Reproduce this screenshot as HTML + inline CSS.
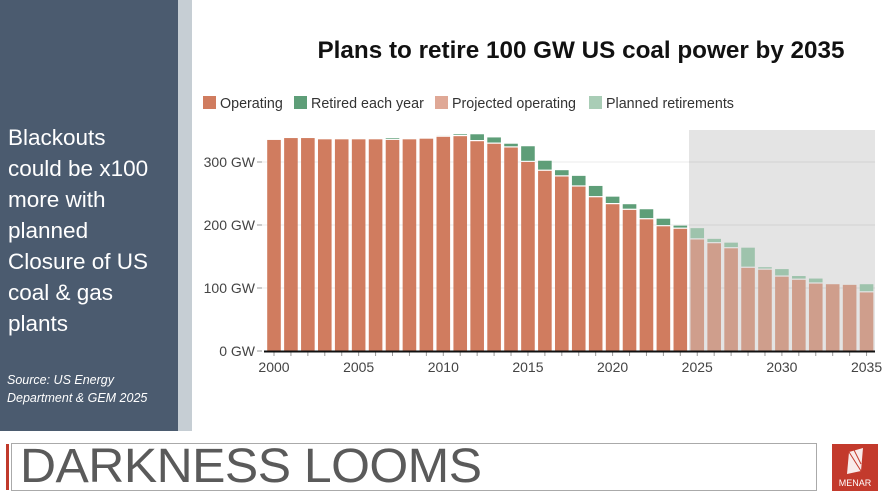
<!DOCTYPE html>
<html><head><meta charset="utf-8"><style>
body{margin:0;width:889px;height:500px;background:#fff;overflow:hidden;font-family:"Liberation Sans",sans-serif;position:relative}
.left{position:absolute;left:0;top:0;width:178px;height:431px;background:#4b5b6f}
.strip{position:absolute;left:178px;top:0;width:14px;height:431px;background:#c6ced4}
.big{position:absolute;left:8px;top:122px;color:#fff;font-size:22.5px;line-height:31px}
.src{position:absolute;left:7px;top:371px;color:#fff;font-size:12.5px;font-style:italic;line-height:18px}
.tbox{position:absolute;left:11px;top:443px;width:806px;height:48px;border:1px solid #aaa;box-sizing:border-box}
.red{position:absolute;left:6px;top:444px;width:3px;height:46px;background:#c0392b}
.tt{position:absolute;left:20px;top:439px;font-size:48px;color:#5a5a5a;letter-spacing:-0.5px;transform:scaleX(1.04);transform-origin:left;white-space:nowrap}
.logo{position:absolute;left:832px;top:444px;width:46px;height:47px;background:#c33a2c;color:#fff;font-size:9px;text-align:center}
</style></head><body>
<div class="left"></div><div class="strip"></div>
<div class="big">Blackouts<br>could be x100<br>more with<br>planned<br>Closure of US<br>coal &amp; gas<br>plants</div>
<div class="src">Source: US Energy<br>Department &amp; GEM 2025</div>
<div class="red"></div><div class="tbox"></div><div class="tt">DARKNESS LOOMS</div>
<div class="logo"><svg width="46" height="34"><polygon points="17,8 31,4 29,27 15,30" fill="#fff" opacity="0.9"/><line x1="17" y1="8" x2="29" y2="27" stroke="#c33a2c"/><line x1="22" y1="6" x2="29" y2="20" stroke="#c33a2c"/></svg><div style="margin-top:-2px">MENAR</div></div>
<svg id="c" style="position:absolute;left:0;top:0" width="889" height="440"></svg>
<script>
const op=[335,338,338,336,336,336,336,335,336,337,340,341,333,329,323,300,286,277,261,244,233,224,209,198,194,177,171,163,132,129,118,113,107,106,105,93];
const top_=[335,338,338,337,336,336,336,338,336,338,342,344,344,339,329,325,302,287,278,262,245,233,225,210,199,195,178,172,164,133,130,119,115,106,106,106];
let s='';
s+='<text x="581" y="58" text-anchor="middle" font-size="24" font-weight="bold" fill="#111" textLength="527" lengthAdjust="spacingAndGlyphs">Plans to retire 100 GW US coal power by 2035</text>';
s+='<rect x="689" y="130" width="186" height="221" fill="#e4e4e4"/>';
const Y=v=>351-v*0.63;
[100,200,300].forEach(v=>{s+=`<line x1="262" x2="875" y1="${Y(v)}" y2="${Y(v)}" stroke="#000" stroke-opacity="0.08"/>`});
[0,100,200,300].forEach(v=>{s+=`<text x="255" y="${Y(v)+5}" text-anchor="end" font-size="14" fill="#444">${v} GW</text><line x1="257" x2="262" y1="${Y(v)}" y2="${Y(v)}" stroke="#999"/>`});
for(let i=0;i<36;i++){const cx=274+i*16.93,x=cx-6.8,p=i>=25;
 const oc=p?'#cf9e8c':'#d07c5f',rc=p?'#9ec3ac':'#5e9e78';
 s+=`<rect x="${x}" y="${Y(op[i])}" width="13.6" height="${op[i]*0.63}" fill="${oc}"/>`;
 if(top_[i]>op[i]+0.5)s+=`<rect x="${x}" y="${Y(top_[i])}" width="13.6" height="${(top_[i]-op[i])*0.63-1.2}" fill="${rc}"/>`;
 s+=`<line x1="${cx}" x2="${cx}" y1="351" y2="356" stroke="#999"/>`;
 if(i%5==0)s+=`<text x="${cx}" y="372" text-anchor="middle" font-size="14" fill="#444">${2000+i}</text>`;}
s+='<line x1="264" x2="875" y1="351.5" y2="351.5" stroke="#111" stroke-width="2"/>';
const lg=[['Operating','#d07c5f',203],['Retired each year','#5e9e78',294],['Projected operating','#dfa896',435],['Planned retirements','#a9cdb6',589]];
lg.forEach(([t,c,x])=>{s+=`<rect x="${x}" y="96" width="13" height="13" fill="${c}"/><text x="${x+17}" y="108" font-size="14.3" fill="#333">${t}</text>`});
document.getElementById('c').innerHTML=s;
</script>
</body></html>
